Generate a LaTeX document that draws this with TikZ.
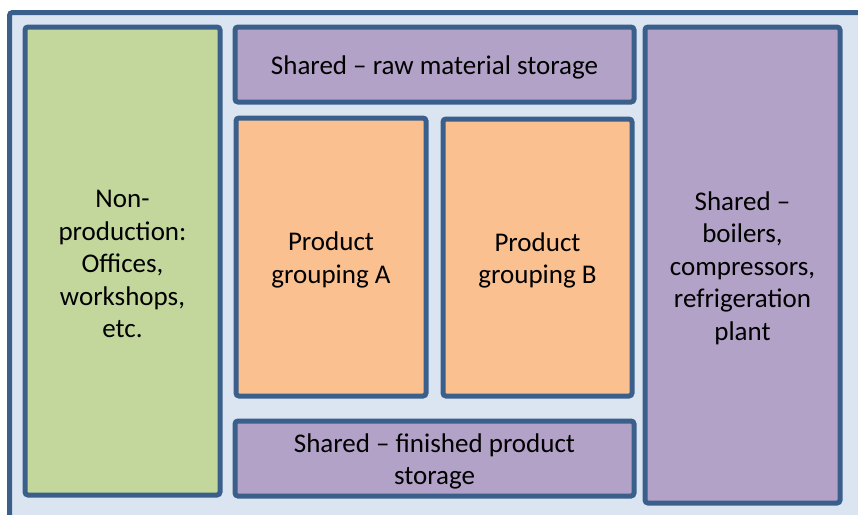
\documentclass[tikz,border=0pt]{standalone}
\usepackage{fontspec}
\setmainfont{Carlito}
\definecolor{frameblue}{HTML}{3A5F8B}
\definecolor{bgblue}{HTML}{DBE5F1}
\definecolor{boxgreen}{HTML}{C3D69B}
\definecolor{boxpurple}{HTML}{B2A2C7}
\definecolor{boxorange}{HTML}{FAC090}
\tikzset{
  zone/.style={draw=frameblue, line width=5pt, rounded corners=3pt, inner sep=0pt},
  greenzone/.style={zone, fill=boxgreen},
  purplezone/.style={zone, fill=boxpurple},
  orangezone/.style={zone, fill=boxorange},
  zonetext/.style={align=center, inner sep=0pt, yshift=-3pt,
    font=\fontsize{27}{32.5}\selectfont, text=black},
}
\begin{document}
\begin{tikzpicture}[x=1pt,y=-1pt]
\useasboundingbox (0,0) rectangle (858,514);
\fill[white] (0,0) rectangle (858,514);
\begin{scope}
\clip (0,0) rectangle (858,514);
\draw[draw=frameblue, fill=bgblue, line width=5pt, rounded corners=3pt] (9.5,12.5) rectangle (880,540);
\end{scope}
\node[greenzone, minimum width=195pt, minimum height=468pt] (nonprod) at (122.5,261) {};
\node[purplezone, minimum width=399pt, minimum height=75pt] (raw) at (434.5,64.5) {};
\node[purplezone, minimum width=195pt, minimum height=476pt] (utilities) at (742.5,265) {};
\node[orangezone, minimum width=190pt, minimum height=278pt] (groupA) at (331,257) {};
\node[orangezone, minimum width=189pt, minimum height=277pt] (groupB) at (537.5,257.5) {};
\node[purplezone, minimum width=399pt, minimum height=75pt] (finished) at (434.5,458.5) {};
\node[zonetext] (nonprodtext) at (nonprod.center) {Non-\\production:\\Offices,\\workshops,\\etc.};
\node[zonetext] (rawtext) at (raw.center) {Shared – raw material storage};
\node[zonetext] (utilitiestext) at (utilities.center) {Shared –\\boilers,\\compressors,\\refrigeration\\plant};
\node[zonetext] (groupAtext) at (groupA.center) {Product\\grouping A};
\node[zonetext] (groupBtext) at (groupB.center) {Product\\grouping B};
\node[zonetext] (finishedtext) at (finished.center) {Shared – finished product\\storage};
\end{tikzpicture}
\end{document}
